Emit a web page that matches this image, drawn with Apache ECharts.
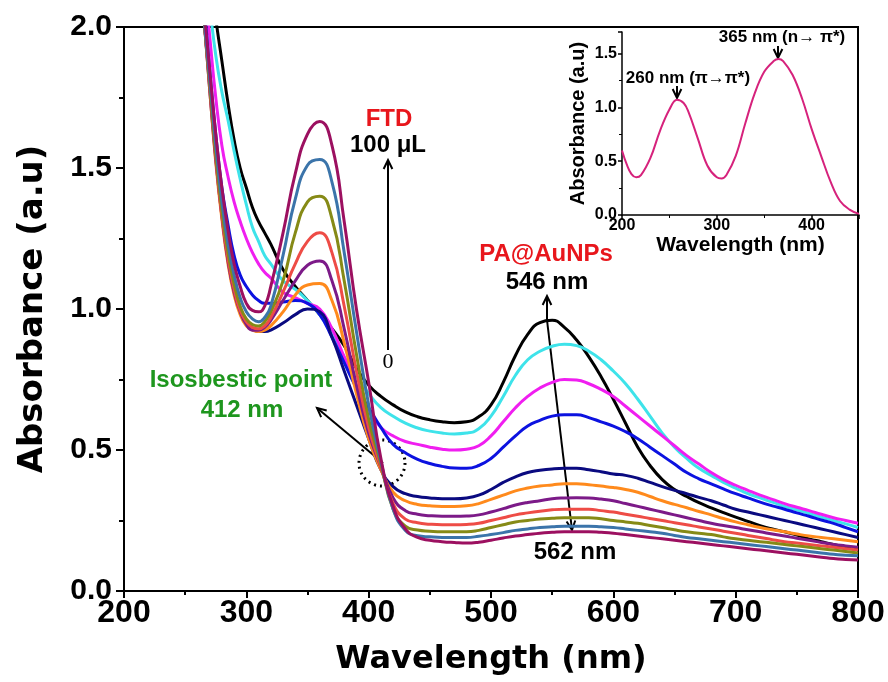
<!doctype html>
<html lang="en">
<head>
<meta charset="UTF-8">
<title>Absorbance spectra</title>
<script src="https://cdn.jsdelivr.net/npm/echarts@6.0.0/dist/echarts.min.js"></script>
<style>html,body{margin:0;background:#fff;}</style>
</head>
<body>
<div id="chart" style="width:888px;height:682px;"></div>
<script type="text/javascript">
// wavelengths (nm) shared by all main spectra: 5 nm steps on the steep edge, then 10 nm
const wavelength = [260, 265, 270, 275, 280, 285, 290, 295, 300, 305, 310, 315, 320,
    330, 340, 350, 360, 370, 380, 390, 400, 410, 420, 430, 440, 450, 460, 470, 480, 490, 500,
    510, 520, 530, 540, 550, 560, 570, 580, 590, 600, 610, 620, 630, 640, 650, 660, 670, 680,
    690, 700, 710, 720, 730, 740, 750, 760, 770, 780, 790, 800];

// FTD 0 uL (PA@AuNPs) -> 100 uL
const absBlack = [2.6, 2.4, 2.2, 2.03, 1.88, 1.73, 1.60, 1.50, 1.43, 1.36, 1.31, 1.27, 1.23,
    1.14, 1.08, 1.03, 0.98, 0.93, 0.87, 0.79, 0.73, 0.69, 0.66, 0.635, 0.618, 0.607, 0.600, 0.597, 0.60, 0.618, 0.66,
    0.74, 0.835, 0.91, 0.952, 0.96, 0.935, 0.89, 0.83, 0.76, 0.68, 0.595, 0.51, 0.445, 0.395, 0.36, 0.335, 0.313, 0.295,
    0.278, 0.262, 0.247, 0.232, 0.22, 0.21, 0.198, 0.185, 0.175, 0.165, 0.157, 0.15];
const absCyan = [2.5, 2.3, 2.08, 1.9, 1.77, 1.67, 1.56, 1.46, 1.37, 1.29, 1.24, 1.19, 1.16,
    1.10, 1.07, 1.03, 0.98, 0.91, 0.83, 0.76, 0.70, 0.65, 0.62, 0.595, 0.578, 0.567, 0.56, 0.557, 0.56, 0.575, 0.62,
    0.69, 0.765, 0.82, 0.85, 0.868, 0.875, 0.87, 0.85, 0.82, 0.78, 0.735, 0.68, 0.62, 0.56, 0.51, 0.47, 0.435, 0.41,
    0.385, 0.365, 0.345, 0.33, 0.315, 0.30, 0.288, 0.275, 0.262, 0.25, 0.238, 0.225];
const absMagenta = [2.4, 2.2, 1.97, 1.75, 1.58, 1.47, 1.38, 1.31, 1.25, 1.20, 1.16, 1.13, 1.11,
    1.06, 1.04, 1.02, 1.0, 0.93, 0.83, 0.73, 0.64, 0.58, 0.55, 0.53, 0.52, 0.51, 0.503, 0.50, 0.503, 0.515, 0.55,
    0.60, 0.65, 0.69, 0.72, 0.74, 0.75, 0.748, 0.735, 0.715, 0.69, 0.655, 0.62, 0.585, 0.55, 0.515, 0.48, 0.45, 0.42,
    0.395, 0.375, 0.357, 0.34, 0.325, 0.31, 0.297, 0.285, 0.272, 0.26, 0.25, 0.24];
const absBlue = [2.3, 2.1, 1.85, 1.62, 1.43, 1.30, 1.19, 1.12, 1.08, 1.05, 1.03, 1.02, 1.02,
    1.025, 1.03, 1.02, 0.98, 0.90, 0.81, 0.72, 0.65, 0.58, 0.52, 0.49, 0.467, 0.452, 0.442, 0.436, 0.435, 0.445, 0.47,
    0.51, 0.55, 0.585, 0.605, 0.62, 0.625, 0.625, 0.615, 0.60, 0.585, 0.565, 0.54, 0.51, 0.48, 0.45, 0.42, 0.398, 0.38,
    0.362, 0.345, 0.33, 0.315, 0.302, 0.29, 0.277, 0.265, 0.252, 0.24, 0.225, 0.21];
const absNavy = [2.3, 2.05, 1.8, 1.55, 1.35, 1.18, 1.06, 0.99, 0.95, 0.93, 0.92, 0.92, 0.925,
    0.95, 0.98, 1.0, 0.99, 0.90, 0.78, 0.66, 0.54, 0.43, 0.37, 0.345, 0.335, 0.33, 0.327, 0.327, 0.33, 0.34, 0.36,
    0.385, 0.405, 0.42, 0.428, 0.433, 0.435, 0.435, 0.43, 0.423, 0.415, 0.41, 0.40, 0.385, 0.37, 0.357, 0.345, 0.332, 0.32,
    0.305, 0.29, 0.28, 0.27, 0.26, 0.25, 0.24, 0.23, 0.22, 0.21, 0.20, 0.19];
const absOrange = [2.3, 2.05, 1.78, 1.52, 1.32, 1.16, 1.05, 0.98, 0.94, 0.925, 0.92, 0.925, 0.94,
    0.99, 1.05, 1.085, 1.09, 1.03, 0.88, 0.70, 0.54, 0.43, 0.35, 0.32, 0.307, 0.302, 0.30, 0.30, 0.302, 0.31, 0.325,
    0.34, 0.355, 0.365, 0.372, 0.376, 0.38, 0.38, 0.377, 0.372, 0.367, 0.36, 0.35, 0.335, 0.32, 0.307, 0.295, 0.282, 0.27,
    0.257, 0.245, 0.235, 0.225, 0.217, 0.21, 0.202, 0.195, 0.19, 0.185, 0.18, 0.175];
const absPurple = [2.3, 2.05, 1.78, 1.53, 1.33, 1.17, 1.06, 0.99, 0.945, 0.925, 0.925, 0.935, 0.96,
    1.03, 1.10, 1.155, 1.17, 1.10, 0.93, 0.73, 0.56, 0.44, 0.33, 0.285, 0.272, 0.267, 0.265, 0.265, 0.266, 0.27, 0.28,
    0.292, 0.305, 0.314, 0.32, 0.327, 0.33, 0.331, 0.33, 0.326, 0.32, 0.31, 0.30, 0.29, 0.28, 0.27, 0.26, 0.25, 0.24,
    0.232, 0.225, 0.217, 0.21, 0.202, 0.195, 0.187, 0.18, 0.172, 0.165, 0.16, 0.155];
const absRed = [2.3, 2.05, 1.79, 1.54, 1.33, 1.18, 1.07, 0.995, 0.955, 0.935, 0.93, 0.94, 0.97,
    1.06, 1.16, 1.24, 1.27, 1.20, 1.01, 0.78, 0.58, 0.44, 0.31, 0.255, 0.242, 0.237, 0.235, 0.235, 0.236, 0.24, 0.25,
    0.26, 0.27, 0.277, 0.283, 0.288, 0.29, 0.29, 0.29, 0.285, 0.28, 0.272, 0.265, 0.257, 0.25, 0.242, 0.235, 0.227, 0.22,
    0.212, 0.205, 0.197, 0.19, 0.182, 0.175, 0.17, 0.165, 0.16, 0.155, 0.15, 0.145];
const absOlive = [2.3, 2.05, 1.8, 1.55, 1.35, 1.2, 1.09, 1.01, 0.965, 0.945, 0.94, 0.955, 0.99,
    1.10, 1.27, 1.38, 1.40, 1.32, 1.10, 0.84, 0.61, 0.45, 0.29, 0.23, 0.216, 0.212, 0.21, 0.21, 0.21, 0.215, 0.225,
    0.235, 0.245, 0.25, 0.255, 0.258, 0.26, 0.26, 0.26, 0.256, 0.25, 0.245, 0.24, 0.232, 0.225, 0.217, 0.21, 0.205, 0.20,
    0.192, 0.185, 0.18, 0.175, 0.17, 0.165, 0.16, 0.155, 0.15, 0.145, 0.14, 0.135];
const absSteel = [2.3, 2.05, 1.82, 1.58, 1.38, 1.23, 1.12, 1.04, 0.99, 0.965, 0.955, 0.97, 1.01,
    1.19, 1.39, 1.51, 1.53, 1.45, 1.20, 0.92, 0.66, 0.46, 0.29, 0.215, 0.196, 0.192, 0.19, 0.19, 0.19, 0.194, 0.20,
    0.207, 0.215, 0.22, 0.225, 0.228, 0.23, 0.23, 0.23, 0.228, 0.225, 0.22, 0.215, 0.21, 0.205, 0.197, 0.19, 0.185, 0.18,
    0.175, 0.17, 0.165, 0.16, 0.155, 0.15, 0.145, 0.14, 0.135, 0.13, 0.127, 0.125];
const absMaroon = [2.3, 2.08, 1.85, 1.62, 1.43, 1.28, 1.16, 1.08, 1.02, 0.995, 0.99, 1.01, 1.08,
    1.27, 1.48, 1.62, 1.665, 1.58, 1.31, 1.00, 0.74, 0.47, 0.30, 0.22, 0.19, 0.18, 0.175, 0.172, 0.17, 0.173, 0.18,
    0.188, 0.195, 0.20, 0.205, 0.208, 0.21, 0.21, 0.21, 0.208, 0.205, 0.20, 0.195, 0.19, 0.185, 0.18, 0.175, 0.17, 0.165,
    0.16, 0.155, 0.15, 0.145, 0.14, 0.135, 0.13, 0.125, 0.12, 0.115, 0.112, 0.11];

const mainSpectra = [absBlack, absCyan, absMagenta, absBlue, absNavy, absOrange,
    absPurple, absRed, absOlive, absSteel, absMaroon];
const mainColors = ['#000000', '#3ee3ea', '#f01ef0', '#0c12e0', '#0a0a80', '#ff8a1c',
    '#7c1a88', '#ee4c46', '#868a16', '#3b74aa', '#9c1060'];

// inset: FTD alone
const insetWavelength = [200, 205, 210, 215, 220, 230, 240, 250, 258, 265, 270, 280, 290, 300, 305,
    310, 320, 330, 340, 350, 360, 365, 370, 380, 390, 400, 410, 420, 430, 440, 450];
const insetAbs = [0.60, 0.47, 0.38, 0.35, 0.37, 0.53, 0.78, 0.98, 1.07, 1.04, 0.96, 0.71, 0.46, 0.35, 0.34,
    0.37, 0.55, 0.85, 1.13, 1.33, 1.43, 1.45, 1.43, 1.30, 1.08, 0.80, 0.55, 0.31, 0.13, 0.05, 0.01];

const sans = 'Liberation Sans, Arial, sans-serif';

function arrow(x1, y1, x2, y2, w) {
    let a = Math.atan2(y2 - y1, x2 - x1), h = 10, s = 0.45;
    return {
        type: 'group', children: [
            {type: 'line', shape: {x1: x1, y1: y1, x2: x2, y2: y2}, style: {stroke: '#000', lineWidth: w}},
            {type: 'polyline', shape: {points: [
                [x2 - h * Math.cos(a - s), y2 - h * Math.sin(a - s)], [x2, y2],
                [x2 - h * Math.cos(a + s), y2 - h * Math.sin(a + s)]]},
             style: {stroke: '#000', lineWidth: w, fill: null}}
        ]
    };
}

function label(text, x, y, size, color, family, weight) {
    return {
        type: 'text', x: x, y: y,
        style: {text: text, fill: color, fontSize: size, fontWeight: weight || 'bold',
            fontFamily: family || sans, align: 'center', verticalAlign: 'middle'}
    };
}

let series = [];
for (let i = 0; i < mainSpectra.length; i++) {
    series.push({
        type: 'line', xAxisIndex: 0, yAxisIndex: 0,
        data: wavelength.map(function (w, j) { return [w, mainSpectra[i][j]]; }),
        showSymbol: false, smooth: 0.5,
        lineStyle: {color: mainColors[i], width: 3}
    });
}
series.push({
    type: 'line', xAxisIndex: 1, yAxisIndex: 1,
    data: insetWavelength.map(function (w, j) { return [w, insetAbs[j]]; }),
    showSymbol: false, smooth: 0.4,
    lineStyle: {color: '#d6227c', width: 2}
});

let chart = echarts.init(document.getElementById('chart'));
chart.setOption({
    animation: false,
    backgroundColor: '#fff',
    grid: [
        {left: 124, right: 30, top: 27, bottom: 91, show: true, borderColor: '#000', borderWidth: 2},
        {left: 622, right: 29, top: 32, bottom: 467}
    ],
    xAxis: [
        {
            gridIndex: 0, type: 'value', min: 200, max: 800, interval: 100,
            axisLine: {onZero: false, lineStyle: {color: '#000', width: 2}},
            axisTick: {length: 7, lineStyle: {color: '#000', width: 2}},
            minorTick: {show: true, splitNumber: 2, length: 4, lineStyle: {color: '#000', width: 2}},
            splitLine: {show: false},
            axisLabel: {color: '#000', fontSize: 32, fontWeight: 'bold', fontFamily: sans, margin: 6},
            name: 'Wavelength (nm)', nameLocation: 'middle', nameGap: 53,
            nameTextStyle: {color: '#000', fontSize: 32, fontWeight: 'bold', fontFamily: 'DejaVu Sans'}
        },
        {
            gridIndex: 1, type: 'value', min: 200, max: 450, interval: 100,
            axisLine: {onZero: false, lineStyle: {color: '#000', width: 1.5}},
            axisTick: {length: 4, lineStyle: {color: '#000', width: 1.5}},
            minorTick: {show: true, splitNumber: 2, length: 3, lineStyle: {color: '#000', width: 1}},
            splitLine: {show: false},
            axisLabel: {color: '#000', fontSize: 16, fontWeight: 'bold', fontFamily: sans, margin: 3, showMaxLabel: false},
            name: 'Wavelength (nm)', nameLocation: 'middle', nameGap: 20,
            nameTextStyle: {color: '#000', fontSize: 21, fontWeight: 'bold', fontFamily: sans}
        }
    ],
    yAxis: [
        {
            gridIndex: 0, type: 'value', min: 0, max: 2, interval: 0.5,
            axisLine: {onZero: false, lineStyle: {color: '#000', width: 2}},
            axisTick: {length: 8, lineStyle: {color: '#000', width: 2}},
            minorTick: {show: true, splitNumber: 2, length: 5, lineStyle: {color: '#000', width: 2}},
            splitLine: {show: false},
            axisLabel: {color: '#000', fontSize: 30, fontWeight: 'bold', fontFamily: sans, margin: 12,
                formatter: function (v) { return v.toFixed(1); }},
            name: 'Absorbance (a.u)', nameLocation: 'middle', nameGap: 74,
            nameTextStyle: {color: '#000', fontSize: 34, fontWeight: 'bold', fontFamily: 'DejaVu Sans'}
        },
        {
            gridIndex: 1, type: 'value', min: 0, max: 1.7, interval: 0.5,
            axisLine: {onZero: false, lineStyle: {color: '#000', width: 1.5}},
            axisTick: {length: 4, lineStyle: {color: '#000', width: 1.5}},
            minorTick: {show: true, splitNumber: 2, length: 3, lineStyle: {color: '#000', width: 1}},
            splitLine: {show: false},
            axisLabel: {color: '#000', fontSize: 16, fontWeight: 'bold', fontFamily: sans, margin: 5, showMaxLabel: false,
                formatter: function (v) { return v.toFixed(1); }},
            name: 'Absorbance (a.u)', nameLocation: 'middle', nameGap: 34,
            nameTextStyle: {color: '#000', fontSize: 20, fontWeight: 'bold', fontFamily: sans}
        }
    ],
    series: series,
    graphic: [
        label('FTD', 389, 119, 24, '#e8161c'),
        label('100 \u03bcL', 388, 145, 24, '#000'),
        arrow(388, 350, 388, 160, 2),
        label('0', 388, 362, 22, '#000', 'Liberation Serif, Times New Roman, serif', 'normal'),
        label('PA@AuNPs', 546, 254, 24, '#e8161c'),
        label('546 nm', 547, 282, 24, '#000'),
        arrow(547, 320, 547, 296, 2),
        arrow(547, 320, 572, 530, 2),
        label('562 nm', 575, 552, 24, '#000'),
        label('Isosbestic point', 241, 380, 24, '#1e961e'),
        label('412 nm', 242, 410, 24, '#1e961e'),
        arrow(383, 463, 317, 408, 2),
        {type: 'circle', shape: {cx: 382, cy: 463, r: 23},
         style: {fill: null, stroke: '#000', lineWidth: 3, lineDash: [2, 4]}},
        label('260 nm (\u03c0\u2192\u03c0*)', 688, 78, 17, '#000'),
        arrow(677, 86, 677, 98, 2),
        label('365 nm (n\u2192 \u03c0*)', 782, 37, 17, '#000'),
        arrow(778, 46, 778, 58, 2)
    ]
});
</script>
</body>
</html>
